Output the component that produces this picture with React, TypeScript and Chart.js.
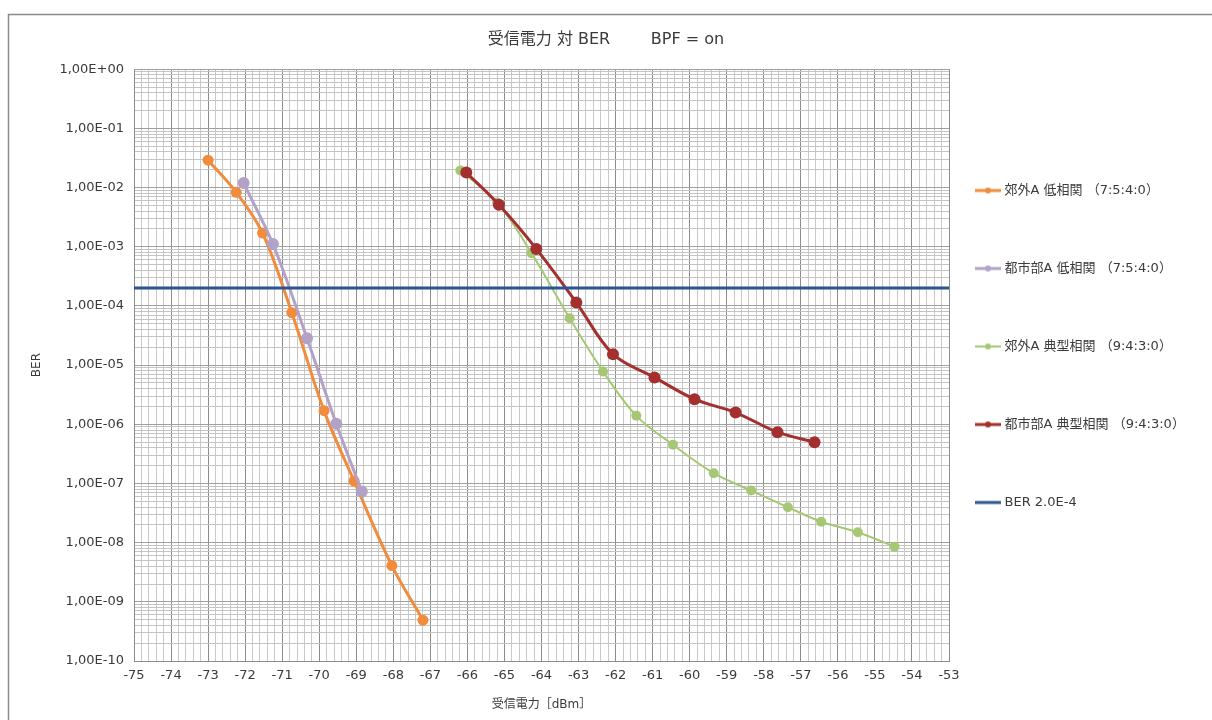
import React, { useEffect, useRef } from 'react';
import { Chart, registerables } from 'chart.js';

Chart.register(...registerables);

// ---- data ----
const suburbLowX = [-73.0, -72.24, -71.53, -70.74, -69.87, -69.06, -68.04, -67.2];
const suburbLowY = [2.9e-2, 8.3e-3, 1.7e-3, 7.7e-5, 1.7e-6, 1.1e-7, 4.1e-9, 4.9e-10];

const urbanLowX = [-72.04, -71.25, -70.33, -69.54, -68.85];
const urbanLowY = [1.19e-2, 1.11e-3, 2.85e-5, 1.02e-6, 7.3e-8];

const suburbTypX = [-66.19, -65.2, -64.27, -63.24, -62.34, -61.44, -60.45, -59.35, -58.34, -57.35, -56.45, -55.46, -54.47];
const suburbTypY = [1.95e-2, 5.6e-3, 7.8e-4, 6.2e-5, 7.8e-6, 1.39e-6, 4.5e-7, 1.49e-7, 7.6e-8, 3.96e-8, 2.26e-8, 1.5e-8, 8.55e-9];

const urbanTypX = [-66.03, -65.15, -64.14, -63.06, -62.07, -60.95, -59.87, -58.76, -57.63, -56.63];
const urbanTypY = [1.8e-2, 5.12e-3, 9.2e-4, 1.14e-4, 1.53e-5, 6.2e-6, 2.66e-6, 1.58e-6, 7.35e-7, 4.98e-7];

const thresholdX = [-75, -53];
const thresholdY = [2.0e-4, 2.0e-4];

const seriesLabels = [
  '郊外A 低相関 （7:5:4:0）',
  '都市部A 低相関 （7:5:4:0）',
  '郊外A 典型相関 （9:4:3:0）',
  '都市部A 典型相関 （9:4:3:0）',
  'BER 2.0E-4',
];

const chartTitle = '受信電力 対 BER        BPF = on';
const xTitle = '受信電力［dBm］';
const yTitle = 'BER';

const X_MIN = -75;
const X_MAX = -53;
const X_MINOR_STEPS_PER_UNIT = 5;
const Y_MIN_EXP = -10;
const Y_MAX_EXP = 0;

// ---- styling ----
const COLORS = ['#F08C3C', '#B3A2C7', '#A6C874', '#A3302E', '#2B5592'];
const LINE_WIDTHS = [3, 3, 2, 3, 3];
const POINT_RADII = [5.5, 6, 5, 6, 0];
const FONT = '"DejaVu Sans", "Noto Sans CJK JP", sans-serif';
const TEXT = '#3a3a3a';

const LEGEND_MARKER_LEFT = 975;
const LEGEND_FIRST_TOP = 184;
const LEGEND_PAD = 65;

function toPoints(xs: number[], ys: number[]) {
  return xs.map((x, i) => ({ x, y: ys[i] }));
}

function isPow10(v: number) {
  const l = Math.log10(v);
  return Math.abs(l - Math.round(l)) < 1e-9;
}

function fmtExp(v: number) {
  const e = Math.round(Math.log10(v));
  const sign = e < 0 ? '-' : '+';
  const a = Math.abs(e);
  return '1,00E' + sign + (a < 10 ? '0' + a : String(a));
}

function makeMarker(color: string, lw: number, r: number) {
  const c = document.createElement('canvas');
  c.width = 26;
  c.height = 12;
  const g = c.getContext('2d')!;
  g.strokeStyle = color;
  g.lineWidth = lw;
  g.beginPath();
  g.moveTo(0, 6);
  g.lineTo(26, 6);
  g.stroke();
  if (r > 0) {
    g.fillStyle = color;
    g.beginPath();
    g.arc(13, 6, r, 0, Math.PI * 2);
    g.fill();
  }
  return c;
}

const framePlugin = {
  id: 'frame',
  beforeDraw(chart: any) {
    const ctx = chart.ctx;
    ctx.save();
    ctx.fillStyle = '#ffffff';
    ctx.fillRect(0, 0, chart.width, chart.height);
    ctx.strokeStyle = '#8a8a8a';
    ctx.lineWidth = 1.5;
    ctx.strokeRect(8.5, 14.5, chart.width + 50, chart.height + 50);
    ctx.restore();
  },
};

const legendPlacePlugin = {
  id: 'legendPlace',
  afterLayout(chart: any) {
    const lg = chart.legend;
    if (!lg) return;
    const P = lg.options.labels.padding;
    const dx = LEGEND_MARKER_LEFT + 3 - (lg.left + P);
    lg.left += dx;
    lg.right = chart.width;
    lg.width = lg.right - lg.left;
    const colH = lg.columnSizes && lg.columnSizes[0] ? lg.columnSizes[0].height : 0;
    const y0 = (lg.top + P + lg.bottom - colH) / 2;
    const dy = LEGEND_FIRST_TOP - y0;
    lg.top += dy;
    lg.bottom += dy;
  },
};

export default function App() {
  const ref = useRef<HTMLCanvasElement>(null);

  useEffect(() => {
    const canvas = ref.current;
    if (!canvas) return;
    const markers = COLORS.map((c, i) => makeMarker(c, LINE_WIDTHS[i], i === 4 ? 0 : 3));
    const series = [
      toPoints(suburbLowX, suburbLowY),
      toPoints(urbanLowX, urbanLowY),
      toPoints(suburbTypX, suburbTypY),
      toPoints(urbanTypX, urbanTypY),
      toPoints(thresholdX, thresholdY),
    ];
    const datasets = series.map((data, i) => ({
      label: seriesLabels[i],
      data,
      borderColor: COLORS[i],
      backgroundColor: COLORS[i],
      pointBackgroundColor: COLORS[i],
      pointBorderWidth: 0,
      pointRadius: POINT_RADII[i],
      borderWidth: LINE_WIDTHS[i],
      tension: i === 4 ? 0 : 0.35,
      fill: false,
      order: 4 - i,
    }));

    const yTicks: number[] = [];
    for (let e = Y_MIN_EXP; e < Y_MAX_EXP; e++) {
      for (let m = 1; m <= 9; m++) yTicks.push(m * Math.pow(10, e));
    }
    yTicks.push(Math.pow(10, Y_MAX_EXP));

    const xTicks: number[] = [];
    const n = (X_MAX - X_MIN) * X_MINOR_STEPS_PER_UNIT;
    for (let i = 0; i <= n; i++) {
      xTicks.push(Math.round((X_MIN + i / X_MINOR_STEPS_PER_UNIT) * 1000) / 1000);
    }

    const isInt = (v: number) => Math.abs(v - Math.round(v)) < 1e-6;

    const chart = new Chart(canvas, {
      type: 'line',
      data: { datasets: datasets as any },
      plugins: [framePlugin, legendPlacePlugin],
      options: {
        animation: false,
        responsive: false,
        devicePixelRatio: 1,
        layout: { padding: 0 },
        plugins: {
          tooltip: { enabled: false },
          title: {
            display: true,
            text: chartTitle,
            color: TEXT,
            font: { family: FONT, size: 16, weight: 'normal' },
            padding: { top: 30, bottom: 20 },
          },
          legend: {
            display: true,
            position: 'right',
            maxWidth: 263,
            labels: {
              usePointStyle: true,
              pointStyleWidth: 20,
              padding: LEGEND_PAD,
              color: TEXT,
              font: { family: FONT, size: 13 },
              sort: (a: any, b: any) => a.datasetIndex - b.datasetIndex,
              generateLabels: (ch: any) => {
                const items = (Chart.defaults.plugins.legend.labels as any).generateLabels(ch);
                return items.map((it: any) => ({
                  ...it,
                  pointStyle: markers[it.datasetIndex],
                  lineWidth: 0,
                  fontColor: TEXT,
                }));
              },
            },
          },
        },
        scales: {
          x: {
            type: 'linear',
            min: X_MIN,
            max: X_MAX,
            afterBuildTicks: (scale: any) => {
              scale.ticks = xTicks.map((v) => ({ value: v }));
            },
            afterFit: (scale: any) => {
              scale.height = 59;
            },
            ticks: {
              autoSkip: false,
              maxRotation: 0,
              minRotation: 0,
              padding: 7,
              color: TEXT,
              font: { family: FONT, size: 13 },
              callback: (v: any) => (isInt(Number(v)) ? String(Math.round(Number(v))) : ''),
            },
            grid: {
              drawTicks: false,
              color: (ctx: any) => (ctx.tick && isInt(ctx.tick.value) ? '#8c8c8c' : '#c9c9c9'),
              lineWidth: 1,
            },
            border: { display: true, color: '#8c8c8c' },
            title: {
              display: true,
              text: xTitle,
              color: TEXT,
              font: { family: FONT, size: 12 },
              padding: { top: 0, bottom: 8 },
            },
          },
          y: {
            type: 'logarithmic',
            min: Math.pow(10, Y_MIN_EXP),
            max: Math.pow(10, Y_MAX_EXP),
            afterBuildTicks: (scale: any) => {
              scale.ticks = yTicks.map((v) => ({ value: v }));
            },
            afterFit: (scale: any) => {
              scale.width = 134;
            },
            ticks: {
              autoSkip: false,
              padding: 10,
              color: TEXT,
              font: { family: FONT, size: 13 },
              callback: (v: any) => (isPow10(Number(v)) ? fmtExp(Number(v)) : ''),
            },
            grid: {
              drawTicks: false,
              color: (ctx: any) => (ctx.tick && isPow10(ctx.tick.value) ? '#a0a0a0' : '#c4c4c4'),
              lineWidth: 1,
            },
            border: { display: true, color: '#8c8c8c' },
            title: {
              display: true,
              text: yTitle,
              color: TEXT,
              font: { family: FONT, size: 12 },
              padding: { top: 30, bottom: 0 },
            },
          },
        },
      } as any,
    });

    return () => chart.destroy();
  }, []);

  return (
    <div style={{ position: 'fixed', left: 0, top: 0, width: 1212, height: 720, background: '#fff' }}>
      <canvas ref={ref} width={1212} height={720} style={{ display: 'block', width: 1212, height: 720 }} />
    </div>
  );
}
